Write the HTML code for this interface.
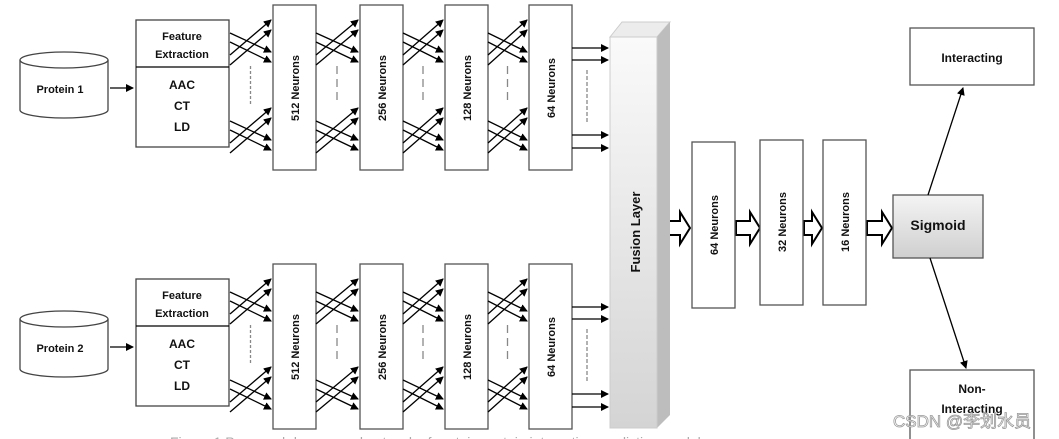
<!DOCTYPE html>
<html><head><meta charset="utf-8"><style>
html,body{margin:0;padding:0;background:#fff;}
svg{display:block;}
text{font-family:"Liberation Sans","Noto Sans CJK SC",sans-serif;font-weight:bold;fill:#111;}
</style></head><body>
<svg id="s" width="1059" height="439" viewBox="0 0 1059 439" xmlns="http://www.w3.org/2000/svg">
<defs>
<marker id="ah" markerWidth="8" markerHeight="8" refX="7" refY="4" orient="auto" markerUnits="userSpaceOnUse"><path d="M0,0 L8,4 L0,8 z" fill="#000"/></marker>
<linearGradient id="fg" x1="0" y1="0" x2="0" y2="1"><stop offset="0" stop-color="#fafafa"/><stop offset="1" stop-color="#d4d4d4"/></linearGradient>
<linearGradient id="sg" x1="0" y1="0" x2="0" y2="1"><stop offset="0" stop-color="#f4f4f4"/><stop offset="1" stop-color="#cfcfcf"/></linearGradient>
</defs>
<g id="g"></g>
<!-- fusion layer -->
<polygon points="610,37 622,22 670,22 657,37" fill="#ececec" stroke="#ccc"/>
<polygon points="657,37 670,22 670,415 657,428" fill="#bdbdbd"/>
<rect x="610" y="37" width="47" height="391" fill="url(#fg)" stroke="#ccc"/>
<text transform="translate(640,232) rotate(-90)" text-anchor="middle" font-size="13">Fusion Layer</text>
<!-- right column -->
<rect x="692" y="142" width="43" height="166" fill="#fff" stroke="#555" stroke-width="1.3"/>
<text transform="translate(718,225) rotate(-90)" text-anchor="middle" font-size="11">64 Neurons</text>
<rect x="760" y="140" width="43" height="165" fill="#fff" stroke="#555" stroke-width="1.3"/>
<text transform="translate(786,222) rotate(-90)" text-anchor="middle" font-size="11">32 Neurons</text>
<rect x="823" y="140" width="43" height="165" fill="#fff" stroke="#555" stroke-width="1.3"/>
<text transform="translate(849,222) rotate(-90)" text-anchor="middle" font-size="11">16 Neurons</text>
<rect x="893" y="195" width="90" height="63" fill="url(#sg)" stroke="#555" stroke-width="1.3"/>
<text x="938" y="230" text-anchor="middle" font-size="14">Sigmoid</text>
<rect x="910" y="28" width="124" height="57" fill="#fff" stroke="#555" stroke-width="1.3"/>
<text x="972" y="62" text-anchor="middle" font-size="12">Interacting</text>
<rect x="910" y="370" width="124" height="80" fill="#fff" stroke="#555" stroke-width="1.3"/>
<text x="972" y="393" text-anchor="middle" font-size="12">Non-</text>
<text x="972" y="413" text-anchor="middle" font-size="12">Interacting</text>
<line x1="928" y1="195" x2="963" y2="88" stroke="#000" stroke-width="1.3" marker-end="url(#ah)"/>
<line x1="930" y1="258" x2="966" y2="368" stroke="#000" stroke-width="1.3" marker-end="url(#ah)"/>
<text x="893" y="427" font-size="17" font-weight="normal" style="fill:#fff;stroke:#999;stroke-width:0.8;font-weight:normal">CSDN @李划水员</text>
<text x="170" y="447" font-size="14" style="fill:#aaa;font-weight:normal">Figure 1 Proposed deep neural network of protein-protein interaction prediction model</text>
</svg>
<script>
var g=document.getElementById('g'),NS='http://www.w3.org/2000/svg';
function el(t,a){var e=document.createElementNS(NS,t);for(var k in a)e.setAttribute(k,a[k]);g.appendChild(e);return e;}
function ln(x1,y1,x2,y2,m,d){var a={x1:x1,y1:y1,x2:x2,y2:y2,stroke:d?'#888':'#000','stroke-width':1.3};if(m)a['marker-end']='url(#ah)';if(d)a['stroke-dasharray']=d;el('line',a);}
function tx(x,y,s,fs,rot){var t=el('text',{x:x,y:y,'text-anchor':'middle','font-size':fs});if(rot){t.setAttribute('transform','translate('+x+','+y+') rotate(-90)');t.setAttribute('x',0);t.setAttribute('y',0);}t.textContent=s;}
function hollow(x,y,w){var s=w-10;el('path',{d:'M'+x+','+(y-7)+' h'+s+' v-9 l10,16 l-10,16 v-9 h-'+s+' z',fill:'#fff',stroke:'#000','stroke-width':2});}
[0,259].forEach(function(o,i){
 el('path',{d:'M20,'+(60+o)+' v50 a44,8 0 0 0 88,0 v-50',fill:'#fff',stroke:'#444','stroke-width':1.3});
 el('ellipse',{cx:64,cy:60+o,rx:44,ry:8,fill:'#fff',stroke:'#444','stroke-width':1.3});
 tx(60,93+o,'Protein '+(i+1),11);
 ln(110,88+o,133,88+o,true);
 el('rect',{x:136,y:20+o,width:93,height:127,fill:'#fff',stroke:'#444','stroke-width':1.3});
 ln(136,67+o,229,67+o);
 tx(182,40+o,'Feature',11);tx(182,58+o,'Extraction',11);
 tx(182,89+o,'AAC',12);tx(182,110+o,'CT',12);tx(182,131+o,'LD',12);
 var boxes=[[273,'512'],[360,'256'],[445,'128'],[529,'64']];
 boxes.forEach(function(b){el('rect',{x:b[0],y:5+o,width:43,height:165,fill:'#fff',stroke:'#555','stroke-width':1.3});tx(b[0]+26,88+o,b[1]+' Neurons',11,true);});
 var gaps=[[230,271],[316,358],[403,443],[488,527]];
 gaps.forEach(function(gp,j){var L=gp[0],R=gp[1];
  [[0],[88]].forEach(function(q){var d=q[0];
   ln(L,33+o+d,R,52+o+d,true);ln(L,42+o+d,R,62+o+d,true);
   ln(L,55+o+d,R,20+o+d,true);ln(L,65+o+d,R,30+o+d,true);
  });
  ln((L+R)/2,66+o,(L+R)/2,105+o,false,j==0?'3,2':'8,5');
 });
 [48,60,135,148].forEach(function(y){ln(572,y+o,608,y+o,true);});
 ln(587,70+o,587,123+o,false,'4,2');
});
hollow(661,228,29);hollow(736,228,24);hollow(804,228,18);hollow(867,228,25);
</script>
</body></html>
